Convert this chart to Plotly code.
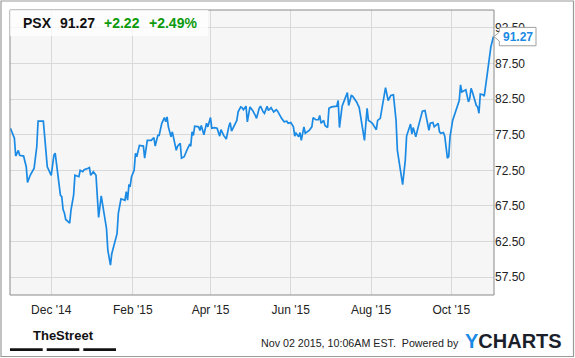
import plotly.graph_objects as go

# ---------------- data ----------------
dates = [
    "2014-10-31", "2014-11-03", "2014-11-04", "2014-11-06", "2014-11-07", "2014-11-10",
    "2014-11-12", "2014-11-13", "2014-11-15", "2014-11-18", "2014-11-20", "2014-11-21",
    "2014-11-25", "2014-11-28", "2014-12-01", "2014-12-03", "2014-12-04", "2014-12-06",
    "2014-12-08", "2014-12-09", "2014-12-10", "2014-12-11", "2014-12-12", "2014-12-15",
    "2014-12-16", "2014-12-18", "2014-12-19", "2014-12-22", "2014-12-23", "2014-12-25",
    "2014-12-26", "2014-12-29", "2014-12-30", "2014-12-31", "2015-01-02", "2015-01-04",
    "2015-01-05", "2015-01-06", "2015-01-08", "2015-01-10", "2015-01-12", "2015-01-13",
    "2015-01-15", "2015-01-16", "2015-01-18", "2015-01-20", "2015-01-21", "2015-01-23",
    "2015-01-26", "2015-01-27", "2015-01-28", "2015-01-29", "2015-01-30", "2015-01-31",
    "2015-02-02", "2015-02-03", "2015-02-04", "2015-02-06", "2015-02-09", "2015-02-10",
    "2015-02-12", "2015-02-15", "2015-02-17", "2015-02-18", "2015-02-20", "2015-02-21",
    "2015-02-23", "2015-02-25", "2015-02-26", "2015-02-27", "2015-02-28", "2015-03-02",
    "2015-03-03", "2015-03-04", "2015-03-06", "2015-03-07", "2015-03-09", "2015-03-10",
    "2015-03-12", "2015-03-14", "2015-03-16", "2015-03-17", "2015-03-18", "2015-03-19",
    "2015-03-20", "2015-03-23", "2015-03-24", "2015-03-25", "2015-03-27", "2015-03-29",
    "2015-03-30", "2015-04-01", "2015-04-02", "2015-04-04", "2015-04-06", "2015-04-08",
    "2015-04-09", "2015-04-11", "2015-04-13", "2015-04-15", "2015-04-16", "2015-04-17",
    "2015-04-20", "2015-04-21", "2015-04-22", "2015-04-24", "2015-04-25", "2015-04-26",
    "2015-04-28", "2015-04-29", "2015-05-01", "2015-05-03", "2015-05-05", "2015-05-06",
    "2015-05-08", "2015-05-09", "2015-05-11", "2015-05-12", "2015-05-14", "2015-05-15",
    "2015-05-17", "2015-05-18", "2015-05-19", "2015-05-21", "2015-05-22", "2015-05-25",
    "2015-05-27", "2015-05-29", "2015-05-30", "2015-06-01", "2015-06-03", "2015-06-04",
    "2015-06-05", "2015-06-07", "2015-06-08", "2015-06-09", "2015-06-11", "2015-06-12",
    "2015-06-15", "2015-06-17", "2015-06-18", "2015-06-20", "2015-06-22", "2015-06-23",
    "2015-06-24", "2015-06-26", "2015-06-27", "2015-06-29", "2015-06-30", "2015-07-02",
    "2015-07-06", "2015-07-07", "2015-07-08", "2015-07-10", "2015-07-12", "2015-07-14",
    "2015-07-15", "2015-07-17", "2015-07-18", "2015-07-21", "2015-07-23", "2015-07-25",
    "2015-07-27", "2015-07-29", "2015-07-30", "2015-07-31", "2015-08-02", "2015-08-05",
    "2015-08-06", "2015-08-08", "2015-08-10", "2015-08-12", "2015-08-14", "2015-08-16",
    "2015-08-18", "2015-08-20", "2015-08-21", "2015-08-25", "2015-08-27", "2015-08-28",
    "2015-08-31", "2015-09-01", "2015-09-02", "2015-09-04", "2015-09-06", "2015-09-09",
    "2015-09-11", "2015-09-12", "2015-09-14", "2015-09-15", "2015-09-17", "2015-09-18",
    "2015-09-21", "2015-09-22", "2015-09-23", "2015-09-25", "2015-09-26", "2015-09-27",
    "2015-09-28", "2015-09-29", "2015-09-30", "2015-10-02", "2015-10-05", "2015-10-07",
    "2015-10-08", "2015-10-09", "2015-10-11", "2015-10-12", "2015-10-14", "2015-10-15",
    "2015-10-16", "2015-10-17", "2015-10-20", "2015-10-21", "2015-10-22", "2015-10-23",
    "2015-10-25", "2015-10-26", "2015-10-28", "2015-10-30", "2015-10-31", "2015-11-02",
]
prices = [
    78.4, 77.0, 74.5, 75.3, 74.6, 74.5,
    73.0, 70.8, 71.8, 72.8, 75.8, 79.4,
    79.4, 73.0, 71.8, 74.6, 74.9, 72.1,
    69.0, 68.8, 67.0, 66.5, 65.6, 65.1,
    66.9, 69.0, 71.8, 71.6, 72.5, 72.3,
    72.6, 72.8, 72.9, 71.8, 72.3, 71.8,
    68.3, 65.9, 68.9, 66.5, 64.3, 61.3,
    59.2, 60.8, 62.2, 63.6, 66.5, 68.5,
    68.3, 69.5, 68.3, 70.4, 70.3, 71.6,
    72.5, 74.9, 74.4, 76.0, 75.9, 74.2,
    76.7, 76.7, 77.1, 75.9, 77.4, 77.4,
    79.1, 79.9, 79.3, 80.0, 78.6, 77.2,
    77.9, 77.0, 75.3, 75.9, 76.3, 74.2,
    74.4, 75.3, 76.1, 75.9, 77.9, 77.4,
    78.7, 78.6, 78.1, 78.8, 77.5, 79.1,
    78.6, 79.9, 78.4, 78.5, 78.4, 77.3,
    78.2, 77.4, 76.9, 78.7, 79.2, 78.0,
    79.1, 79.5, 80.7, 81.4, 81.3, 81.0,
    81.5, 79.3, 81.4, 80.9, 80.2, 79.8,
    81.2, 81.5, 80.7, 80.5, 81.5, 80.9,
    81.3, 81.0, 80.7, 81.0, 80.8, 79.8,
    79.3, 79.4, 79.1, 79.2, 78.6, 77.3,
    77.7, 77.2, 77.8, 76.7, 78.6, 77.7,
    78.1, 78.6, 79.9, 79.6, 79.6, 80.2,
    79.1, 79.5, 78.8, 78.5, 81.2, 81.4,
    81.5, 82.3, 78.5, 81.5, 82.6, 83.4,
    81.6, 83.0, 82.9, 82.1, 81.3, 78.7,
    76.7, 81.2, 79.5, 79.4, 79.1, 78.2,
    79.5, 79.8, 81.9, 84.1, 82.3, 83.0,
    83.1, 79.5, 75.3, 70.5, 73.9, 77.3,
    79.0, 77.6, 78.5, 77.2, 78.7, 80.8,
    80.9, 80.0, 78.1, 79.1, 79.2, 78.6,
    79.1, 77.9, 77.7, 77.8, 77.3, 75.8,
    74.2, 74.4, 77.2, 79.5, 81.2, 82.3,
    84.5, 83.5, 83.7, 83.8, 82.1, 82.6,
    84.0, 83.5, 81.6, 81.4, 80.5, 83.2,
    83.1, 82.9, 85.6, 88.9, 89.8, 91.27,
]
x_tick_dates = ["2014-12-01", "2015-02-01", "2015-04-01", "2015-06-01", "2015-08-01", "2015-10-01"]
x_tick_labels = ["Dec '14", "Feb '15", "Apr '15", "Jun '15", "Aug '15", "Oct '15"]
y_tick_values = [57.5, 62.5, 67.5, 72.5, 77.5, 82.5, 87.5, 92.5]

ticker = "PSX"
last_price = "91.27"
change = "+2.22"
change_pct = "+2.49%"
timestamp = "Nov 02 2015, 10:06AM EST.  Powered by"

# ---------------- style ----------------
W, H = 575, 358
ML, MR, MT, MB = 10, 81, 10, 63
PW, PH = W - ML - MR, H - MT - MB
Y_RANGE = [55, 95]
BLUE = "#1a8ae4"
GREEN = "#0d9a0d"
FONT = "Liberation Sans, Arial, sans-serif"


def px(xp):
    return (xp - ML) / PW


def py(yp):
    return (H - MB - yp) / PH


fig = go.Figure()
fig.add_trace(go.Scatter(
    x=dates, y=prices, mode="lines",
    line=dict(color=BLUE, width=1.7),
    hoverinfo="skip", showlegend=False,
))

shapes = []
# outer frame
shapes.append(dict(type="rect", xref="paper", yref="paper",
                   x0=px(1), x1=px(573.5), y0=py(1), y1=py(356.5),
                   line=dict(color="#9a9a9a", width=1.2), fillcolor="rgba(0,0,0,0)", layer="above"))
# plot frame
shapes.append(dict(type="rect", xref="paper", yref="paper", x0=0, x1=1, y0=0, y1=1,
                   line=dict(color="#8a8a8a", width=1), fillcolor="rgba(0,0,0,0)", layer="above"))
# header band
shapes.append(dict(type="rect", xref="paper", yref="paper",
                   x0=0, x1=px(208), y0=py(36), y1=1,
                   line=dict(width=0), fillcolor="rgba(255,255,255,0.75)", layer="above"))
# TheStreet bars
for a, b in [(10, 42.7), (46.7, 79.3), (83.3, 116)]:
    shapes.append(dict(type="rect", xref="paper", yref="paper",
                       x0=px(a), x1=px(b), y0=py(351), y1=py(348.3),
                       line=dict(width=0), fillcolor="#111111"))

# last price flag
units_per_px = (Y_RANGE[1] - Y_RANGE[0]) / PH
yl = prices[-1]
hh = 9.2 * units_per_px
nh = 4.5 * units_per_px
bx0, bx1 = px(499.3), px(536)
path = (f"M 1,{yl} L {bx0},{yl + nh} L {bx0},{yl + hh} L {bx1},{yl + hh} "
        f"L {bx1},{yl - hh} L {bx0},{yl - hh} L {bx0},{yl - nh} Z")
shapes.append(dict(type="path", xref="paper", yref="y", path=path,
                   line=dict(color="#a0a0a0", width=1), fillcolor="white", layer="above"))

annotations = []
hdr_y = py(23.3)
for txt, xl, col in [(ticker, 20.7, "#111111"), (last_price, 58, "#111111"),
                     (change, 101.7, GREEN), (change_pct, 146.7, GREEN)]:
    annotations.append(dict(text=f"<b>{txt}</b>", xref="paper", yref="paper",
                            x=px(xl), y=hdr_y, xanchor="left", yanchor="middle",
                            showarrow=False, font=dict(family=FONT, size=14, color=col)))
annotations.append(dict(text=f"<b>{last_price}</b>", xref="paper", yref="y",
                        x=(bx0 + bx1) / 2, y=yl, xanchor="center", yanchor="middle",
                        showarrow=False, font=dict(family=FONT, size=12, color=BLUE)))
annotations.append(dict(text="<b>TheStreet</b>", xref="paper", yref="paper",
                        x=px(63.3), y=py(335), xanchor="center", yanchor="middle",
                        showarrow=False,
                        font=dict(family=FONT, size=13, color="#111111")))
annotations.append(dict(text=timestamp, xref="paper", yref="paper",
                        x=px(460.5), y=py(343), xanchor="right", yanchor="middle",
                        showarrow=False, font=dict(family=FONT, size=10.7, color="#222222")))
annotations.append(dict(text=f"<b><span style='color:{BLUE}'>Y</span>CHARTS</b>",
                        xref="paper", yref="paper", x=px(463), y=py(340.5),
                        xanchor="left", yanchor="middle", showarrow=False,
                        font=dict(family=FONT, size=20, color="#1b1f2b")))

fig.update_layout(
    width=W, height=H,
    margin=dict(l=ML, r=MR, t=MT, b=MB, pad=0),
    paper_bgcolor="white", plot_bgcolor="#f6f6f6",
    shapes=shapes, annotations=annotations,
    showlegend=False,
    xaxis=dict(type="date", range=["2014-10-30 16:00", "2015-11-02 10:00"],
               tickvals=x_tick_dates, ticktext=x_tick_labels,
               showgrid=True, gridcolor="#d9d9d9", gridwidth=1,
               zeroline=False, showline=False, ticks="", ticklabelstandoff=6,
               tickfont=dict(family=FONT, size=12, color="#222222"), fixedrange=True),
    yaxis=dict(range=Y_RANGE, side="right", tickvals=y_tick_values, tickformat=".2f",
               showgrid=True, gridcolor="#d9d9d9", gridwidth=1,
               zeroline=False, showline=False, ticks="",
               tickfont=dict(family=FONT, size=12, color="#222222"), fixedrange=True),
)

fig.write_html("out.html")
